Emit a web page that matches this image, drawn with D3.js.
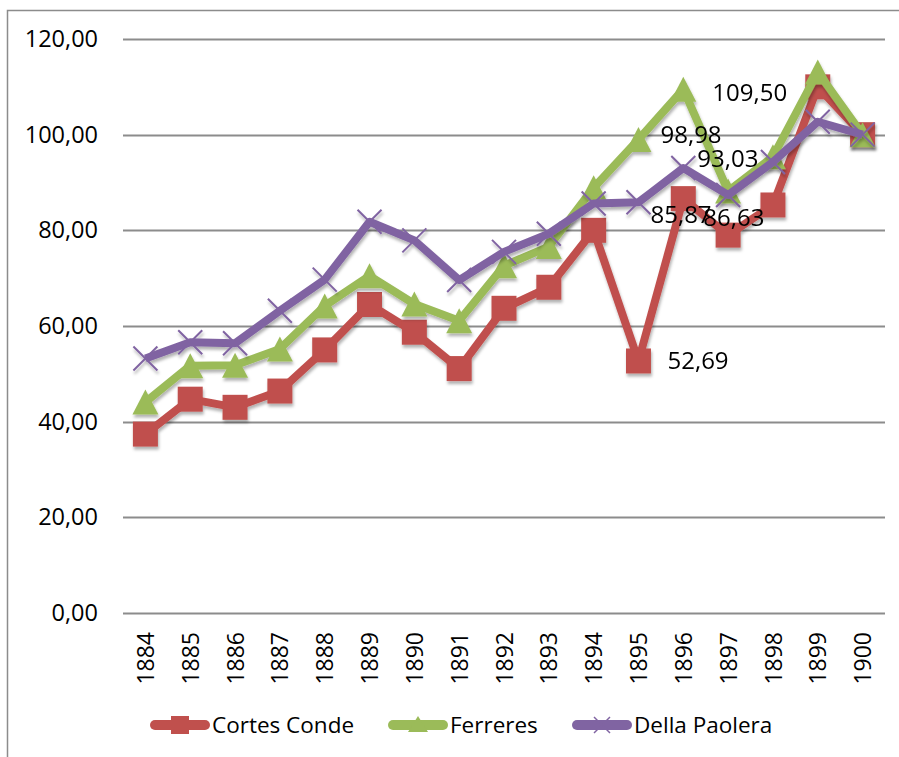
<!DOCTYPE html>
<html>
<head>
<meta charset="utf-8">
<script src="https://cdn.jsdelivr.net/npm/d3@7"></script>
<style>
  body { margin: 0; background: #fff; }
  text { font-family: "Open Sans", sans-serif; fill: #000; }
</style>
</head>
<body>
<figure id="chart" style="margin:0"></figure>
<script>
const years = ["1884", "1885", "1886", "1887", "1888", "1889", "1890", "1891", "1892",
  "1893", "1894", "1895", "1896", "1897", "1898", "1899", "1900"];

const cortesConde = [37.4, 44.7, 43.0, 46.4, 55.0, 64.5, 58.7, 51.1, 63.7,
  68.1, 80.0, 52.69, 86.63, 79.0, 85.3, 110.0, 100.0];
const ferreres = [44.1, 51.7, 51.8, 55.2, 64.2, 70.5, 64.6, 61.1, 72.6,
  76.6, 88.9, 98.98, 109.50, 88.2, 95.4, 113.1, 100.0];
const dellaPaolera = [53.2, 56.6, 56.4, 63.2, 69.7, 81.8, 77.9, 69.6, 75.5,
  79.3, 85.6, 85.87, 93.03, 87.4, 94.3, 102.7, 100.0];

const yTicks = [0, 20, 40, 60, 80, 100, 120];
const seriesNames = ["Cortes Conde", "Ferreres", "Della Paolera"];

// which points carry a data label: [series index, year]
const labelled = [[0, "1895"], [2, "1895"], [0, "1896"], [2, "1896"], [1, "1895"], [1, "1896"]];
// hand placed label offsets, same order as above
const labelNudge = [[29, 0], [12, 12], [20, 19], [14, -9], [22, -5], [29, 3]];

const width = 899, height = 757;
const plotLeft = 123, plotRight = 885, plotTop = 39, plotBottom = 613;

const colors = ["#c0504d", "#9bbb59", "#8064a2"];
const seriesValues = [cortesConde, ferreres, dellaPaolera];

const svg = d3.select("figure#chart")
  .append("svg")
  .attr("width", width)
  .attr("height", height);

const defs = svg.append("defs");
const shadow = defs.append("filter")
  .attr("id", "shadow")
  .attr("x", "-20%").attr("y", "-20%")
  .attr("width", "140%").attr("height", "140%");
shadow.append("feDropShadow")
  .attr("dx", 1)
  .attr("dy", 3)
  .attr("stdDeviation", 1.8)
  .attr("flood-color", "#000")
  .attr("flood-opacity", 0.3);

// outer frame
svg.append("rect")
  .attr("x", 7.5)
  .attr("y", 10.5)
  .attr("width", 900)
  .attr("height", 760)
  .attr("fill", "none")
  .attr("stroke", "#8c8c8c")
  .attr("stroke-width", 1.5);

const x = d3.scalePoint()
  .domain(years)
  .range([plotLeft, plotRight])
  .padding(0.5);

const y = d3.scaleLinear()
  .domain([0, 120])
  .range([plotBottom, plotTop]);

const fmt = d3.formatLocale({ decimal: ",", thousands: ".", grouping: [3], currency: ["", ""] }).format(".2f");

// gridlines
svg.append("g")
  .selectAll("line")
  .data(yTicks)
  .enter()
  .append("line")
  .attr("x1", plotLeft)
  .attr("x2", plotRight)
  .attr("y1", d => Math.round(y(d)) + 0.5)
  .attr("y2", d => Math.round(y(d)) + 0.5)
  .attr("stroke", "#8c8c8c")
  .attr("stroke-width", 2);

// y axis labels
const yAxis = svg.append("g")
  .attr("transform", "translate(" + plotLeft + ",0)")
  .call(d3.axisLeft(y).tickValues(yTicks).tickFormat(fmt).tickSize(0).tickPadding(25));
yAxis.select(".domain").remove();
yAxis.selectAll("text")
  .attr("font-size", 23.5)
  .attr("font-family", "Open Sans")
  .attr("fill", "#000");

// x axis labels
const xAxis = svg.append("g")
  .attr("transform", "translate(0," + plotBottom + ")")
  .call(d3.axisBottom(x).tickSize(0));
xAxis.select(".domain").remove();
xAxis.selectAll("text")
  .attr("font-size", 23)
  .attr("font-family", "Open Sans")
  .attr("fill", "#000")
  .attr("transform", "rotate(-90)")
  .attr("x", -19)
  .attr("y", 0)
  .attr("dy", "0.35em")
  .style("text-anchor", "end");

const markerPath = [
  "M-12.5,-12.5h25v25h-25z",
  "M0,-12.5L13,12.5L-13,12.5Z",
  "M-12,-12L12,12M12,-12L-12,12"
];

const line = d3.line()
  .x((d, i) => x(years[i]))
  .y(d => y(d));

seriesValues.forEach((vals, s) => {
  const g = svg.append("g")
    .attr("filter", "url(#shadow)");

  g.append("path")
    .datum(vals)
    .attr("d", line)
    .attr("fill", "none")
    .attr("stroke", colors[s])
    .attr("stroke-width", 8)
    .attr("stroke-linejoin", "round");

  g.selectAll("path.mk")
    .data(vals)
    .enter()
    .append("path")
    .attr("class", "mk")
    .attr("transform", (d, i) => "translate(" + x(years[i]) + "," + y(d) + ")")
    .attr("d", markerPath[s])
    .attr("fill", s === 2 ? "none" : colors[s])
    .attr("stroke", colors[s])
    .attr("stroke-width", s === 2 ? 2 : 0);
});

// data labels
svg.append("g")
  .selectAll("text")
  .data(labelled)
  .enter()
  .append("text")
  .attr("x", (d, i) => x(d[1]) + labelNudge[i][0])
  .attr("y", (d, i) => y(seriesValues[d[0]][years.indexOf(d[1])]) + labelNudge[i][1])
  .attr("dy", "0.35em")
  .attr("font-size", 24)
  .text(d => fmt(seriesValues[d[0]][years.indexOf(d[1])]));

// legend
const legendX = [150, 388, 572];
const legendMarker = [
  "M-9,-9h18v18h-18z",
  "M0,-9L10,7L-10,7Z",
  "M-8,-8L8,8M8,-8L-8,8"
];
const legend = svg.append("g")
  .selectAll("g")
  .data(seriesNames)
  .enter()
  .append("g")
  .attr("transform", (d, i) => "translate(" + legendX[i] + ",725)");

legend.append("line")
  .attr("x1", 5)
  .attr("x2", 55)
  .attr("stroke", (d, i) => colors[i])
  .attr("stroke-width", 10)
  .attr("stroke-linecap", "round");

legend.append("path")
  .attr("transform", "translate(30,0)")
  .attr("d", (d, i) => legendMarker[i])
  .attr("fill", (d, i) => i === 2 ? "none" : colors[i])
  .attr("stroke", (d, i) => colors[i])
  .attr("stroke-width", (d, i) => i === 2 ? 1.5 : 0);

legend.append("text")
  .attr("x", 62)
  .attr("dy", "0.35em")
  .attr("font-size", 22.5)
  .text(d => d);
</script>
</body>
</html>
